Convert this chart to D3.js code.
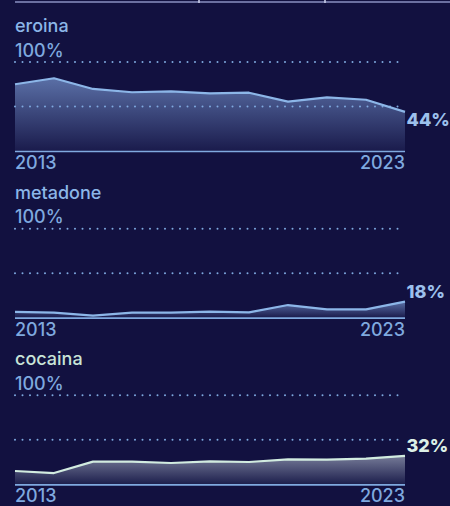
<!DOCTYPE html>
<html><head><meta charset="utf-8">
<script src="https://cdn.jsdelivr.net/npm/d3@7"></script>
<style>
html,body{margin:0;padding:0;background:#121140;}
svg{display:block;}
text{font-family:Inter,"Noto Sans",sans-serif;}
</style></head>
<body>
<script>
const years = [2013,2014,2015,2016,2017,2018,2019,2020,2021,2022,2023];
const seriesNames = ["eroina","metadone","cocaina"];
const eroina   = [75,81.7,69.7,66,67,64.8,65.5,55.4,60.3,57.6,44];
const metadone = [6.4,5.6,2.2,5.6,5.6,6.7,6,14.2,9.4,9.4,18];
const cocaina  = [15,12.7,25.5,25.5,24,25.8,25.1,28,27.7,28.8,32];
const valueLabels = ["44%","18%","32%"];
const topLabel = "100%";
const gridValues = [100,50];

const W=450,H=506;
const svg=d3.select("body").append("svg").attr("width",W).attr("height",H);
const defs=svg.append("defs");

const palette=[
  {line:"#8cb6e8",label:"#8cb6e8",val:"#9cc0ec",g0:"#5a6fa6",g1:"#1a1b4c"},
  {line:"#8cb6e8",label:"#8cb6e8",val:"#9cc0ec",g0:"#5a6fa6",g1:"#1a1b4c"},
  {line:"#d2ece0",label:"#c9e4d8",val:"#ddf0e7",g0:"#767b98",g1:"#1c1e4c"}
];
const axisCol="#7fa9df";

svg.append("line").attr("x1",15).attr("x2",450).attr("y1",2).attr("y2",2)
  .attr("stroke","#8a90c2").attr("stroke-width",1.6);
[199,325].forEach(x=>svg.append("line").attr("x1",x).attr("x2",x).attr("y1",0).attr("y2",3)
  .attr("stroke","#c8cce8").attr("stroke-width",1.6));

const data=[eroina,metadone,cocaina];
const x=d3.scaleLinear().domain([2013,2023]).range([15,405]);
const step=166.67;

data.forEach((vals,i)=>{
  const off=i*step;
  const y=d3.scaleLinear().domain([0,100]).range([151+off,62+off]);
  const c=palette[i];
  const g=svg.append("g");
  const gid="grad"+i;
  const gr=defs.append("linearGradient").attr("id",gid).attr("x1",0).attr("x2",0).attr("y1",0).attr("y2",1);
  gr.append("stop").attr("offset","0%").attr("stop-color",c.g0);
  gr.append("stop").attr("offset","100%").attr("stop-color",c.g1);

  const pts=years.map((yr,j)=>[yr,vals[j]]);
  g.append("path").datum(pts)
    .attr("d",d3.area().x(d=>x(d[0])).y0(y(0)).y1(d=>y(d[1])))
    .attr("fill",`url(#${gid})`);

  gridValues.forEach(v=>{
    g.append("line").attr("x1",x(2013)).attr("x2",x(2023)).attr("y1",y(v)).attr("y2",y(v))
      .attr("stroke",axisCol).attr("stroke-width",2).attr("stroke-linecap","round")
      .attr("stroke-dasharray","0 7.5");
  });

  g.append("path").datum(pts)
    .attr("d",d3.line().x(d=>x(d[0])).y(d=>y(d[1])))
    .attr("fill","none").attr("stroke",c.line).attr("stroke-width",2.2).attr("stroke-linejoin","round");

  g.append("line").attr("x1",x(2013)).attr("x2",x(2023)).attr("y1",y(0)+0.5).attr("y2",y(0)+0.5)
    .attr("stroke",axisCol).attr("stroke-width",1.6);

  const fs=18, fw=500;
  g.append("text").attr("x",15).attr("y",32+off).attr("fill",c.label)
    .attr("font-size",fs).attr("font-weight",fw).text(seriesNames[i]);
  g.append("text").attr("x",15).attr("y",56.5+off).attr("fill",axisCol)
    .attr("font-size",fs).attr("font-weight",fw).text(topLabel);

  g.append("text").attr("x",x(2013)).attr("y",169+off).attr("fill",axisCol)
    .attr("font-size",fs).attr("font-weight",fw).text(years[0]);
  g.append("text").attr("x",x(2023)).attr("y",169+off).attr("fill",axisCol)
    .attr("font-size",fs).attr("font-weight",fw).attr("text-anchor","end").text(years[years.length-1]);

  const last=vals[vals.length-1];
  const ly = (last<50 && last>35) ? y(last)+14.5 : y(last)-3.5;
  g.append("text").attr("x",x(2023)+1.5).attr("y",ly).attr("fill",c.val)
    .attr("font-size",18).attr("font-weight",800).text(valueLabels[i]);
});
</script>
</body></html>
